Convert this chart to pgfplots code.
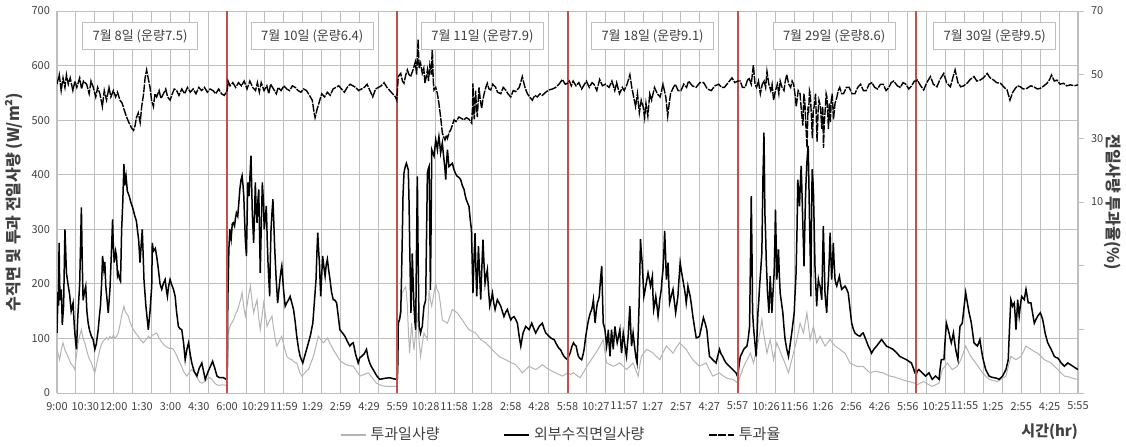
\documentclass[border=0pt]{standalone}
\usepackage{fontspec}
\setmainfont{Noto Sans CJK KR}
\usepackage{xcolor}
\usepackage{pgfplots}
\pgfplotsset{compat=1.18}

\definecolor{gridc}{RGB}{190,190,190}
\definecolor{redl}{RGB}{192,80,77}
\definecolor{txtc}{RGB}{64,64,64}
\definecolor{lgray}{RGB}{180,180,180}

\pgfplotsset{
  base/.style={
    scale only axis, width=510.5pt, height=191pt,
    xmin=0, xmax=54,
    /pgf/number format/assume math mode=true,
    tick label style={font=\fontsize{5.5}{6}\selectfont, text=txtc},
  },
}
\tikzset{
  boxlab/.style={draw=gridc, fill=white, inner xsep=5pt, inner ysep=3.5pt,
    font=\fontsize{6.5}{7}\selectfont, text=txtc},
}

\begin{document}
\begin{tikzpicture}
\useasboundingbox (-28.5pt,-26.5pt) rectangle (534.5pt,196.5pt);

% left axis: irradiance
\begin{axis}[base,
  ymin=0, ymax=700, ytick={0,100,...,700},
  ymajorgrids, major grid style={draw=gridc, line width=0.5pt},
  xtick={0,1.5,3,4.5,6,7.5,9,10.5,12,13.5,15,16.5,18,19.5,21,22.5,24,25.5,27,28.5,30,31.5,33,34.5,36,37.5,39,40.5,42,43.5,45,46.5,48,49.5,51,52.5,54},
  xticklabels={9:00,10:30,12:00,1:30,3:00,4:30,6:00,10:29,11:59,1:29,2:59,4:29,5:59,10:28,11:58,1:28,2:58,4:28,5:58,10:27,11:57,1:27,2:57,4:27,5:57,10:26,11:56,1:26,2:56,4:26,5:56,10:25,11:55,1:25,2:55,4:25,5:55},
  minor xtick={0,1,2,3,4,5,6,7,8,10,11,12,13,14,15,16,17,19,20,21,22,23,24,25,26,28,29,30,31,32,33,34,35,37,38,39,40,41,42,43,44,45,46,47,48,49,50,51,52,53,54},
  xminorgrids, minor grid style={draw=gridc, line width=0.5pt},
  major tick length=0pt, minor tick length=0pt,
  axis line style={draw=gridc},
  ylabel={\bfseries 수직면 및 투과 전일사량 (W/m²)},
  ylabel style={font=\fontsize{8}{9}\selectfont, text=txtc, at={(axis description cs:-0.042,0.5)}, anchor=center},
  xticklabel style={yshift=-1pt},
]
% transmitted irradiance (gray)
\addplot[lgray, line width=0.5pt] coordinates {
(0,80) (0.07,70) (0.14,61) (0.23,80) (0.32,92) (0.41,80) (0.50,73) (0.6,65) (0.72,55) (0.83,50) (0.94,43) (1.03,70) (1.12,92) (1.2,105) (1.29,116) (1.38,100) (1.47,92) (1.56,80) (1.65,68) (1.74,60) (1.82,55) (1.91,45) (2.00,37) (2.08,50) (2.17,65) (2.27,80) (2.36,90) (2.45,95) (2.53,98) (2.62,102) (2.71,98) (2.80,104) (2.9,100) (2.98,106) (3.06,100) (3.15,104) (3.24,110) (3.33,125) (3.44,145) (3.54,159) (3.6,150) (3.68,145) (3.77,141) (3.86,130) (3.95,122) (4.04,116) (4.12,112) (4.2,108) (4.3,104) (4.4,98) (4.48,95) (4.57,92) (4.66,96) (4.75,100) (4.84,104) (4.93,100) (5.05,106) (5.16,108) (5.27,110) (5.38,102) (5.5,95) (5.61,90) (5.72,86) (5.83,84) (5.94,82) (6.05,82) (6.16,80) (6.25,74) (6.34,68) (6.43,60) (6.51,55) (6.6,48) (6.69,40) (6.78,35) (6.87,31) (6.96,36) (7.05,40) (7.13,43) (7.22,40) (7.32,34) (7.44,26) (7.55,20) (7.66,18) (7.77,20) (7.88,24) (7.99,27) (8.1,28) (8.22,24) (8.34,18) (8.46,15) (8.6,14) (8.75,15) (9.0,14)
(9.04,60) (9.09,116) (9.18,125) (9.27,130) (9.35,135) (9.44,145) (9.53,150) (9.61,159) (9.7,170) (9.79,184) (9.87,160) (9.96,141) (10.05,160) (10.14,180) (10.23,196) (10.31,170) (10.4,147) (10.49,160) (10.58,171) (10.66,140) (10.75,116) (10.84,140) (10.93,165) (11.02,145) (11.11,122) (11.2,130) (11.28,135) (11.37,141) (11.45,120) (11.54,100) (11.63,86) (11.72,92) (11.8,98) (11.89,104) (11.98,90) (12.07,78) (12.16,67) (12.25,64) (12.33,62) (12.42,61) (12.5,58) (12.59,56) (12.68,55) (12.77,45) (12.86,36) (12.95,31) (13.07,35) (13.19,40) (13.3,43) (13.43,55) (13.56,67) (13.69,85) (13.82,104) (13.95,98) (14.09,92) (14.2,96) (14.3,101) (14.45,90) (14.61,80) (14.75,72) (14.88,64) (15.01,58) (15.14,55) (15.3,52) (15.5,50) (15.67,49) (15.85,40) (16.02,31) (16.24,34) (16.46,37) (16.67,28) (16.89,18) (17.15,14) (17.42,12) (17.7,12) (18.0,12)
(18.03,60) (18.05,122) (18.15,150) (18.26,183) (18.35,190) (18.44,195) (18.49,180) (18.53,159) (18.59,110) (18.65,73) (18.7,100) (18.76,128) (18.82,100) (18.88,79) (18.97,110) (19.06,147) (19.14,100) (19.23,67) (19.32,90) (19.41,110) (19.5,104) (19.59,98) (19.63,140) (19.68,189) (19.75,170) (19.82,159) (19.92,180) (20.03,201) (20.1,190) (20.2,183) (20.29,160) (20.38,134) (20.5,131) (20.65,128) (20.78,140) (20.91,153) (21.04,150) (21.17,147) (21.3,140) (21.44,134) (21.6,125) (21.79,116) (21.96,113) (22.14,110) (22.27,104) (22.41,98) (22.54,95) (22.67,92) (22.85,86) (23.03,79) (23.2,73) (23.38,67) (23.55,64) (23.73,61) (24.0,56) (24.26,52) (24.44,45) (24.61,37) (24.79,43) (24.97,49) (25.14,46) (25.32,43) (25.5,47) (25.67,52) (25.85,47) (26.02,43) (26.2,40) (26.38,37) (26.55,34) (26.73,31) (26.88,34) (27.0,37)
(27.16,34) (27.32,37) (27.5,32) (27.67,28) (27.85,38) (28.02,49) (28.2,58) (28.37,67) (28.55,76) (28.72,86) (28.89,98) (28.98,75) (29.07,55) (29.25,52) (29.42,49) (29.6,52) (29.77,55) (29.95,49) (30.12,43) (30.3,49) (30.47,55) (30.6,43) (30.74,31) (30.82,50) (30.91,67) (31.05,74) (31.18,80) (31.35,77) (31.53,73) (31.7,67) (31.88,61) (32.05,74) (32.23,86) (32.4,80) (32.58,73) (32.75,83) (32.93,92) (33.1,86) (33.28,80) (33.45,70) (33.63,61) (33.8,55) (33.98,49) (34.15,52) (34.33,55) (34.5,43) (34.68,31) (34.86,34) (35.04,37) (35.2,32) (35.39,28) (35.56,26) (35.74,25) (35.87,22) (36.0,18)
(36.16,33) (36.32,49) (36.5,61) (36.67,73) (36.76,64) (36.84,55) (36.97,76) (37.11,98) (37.2,116) (37.28,135) (37.37,110) (37.46,92) (37.55,73) (37.63,85) (37.72,98) (37.81,80) (37.9,61) (37.98,76) (38.07,92) (38.25,76) (38.43,61) (38.56,49) (38.69,37) (38.82,55) (38.95,73) (39.04,85) (39.13,98) (39.22,113) (39.3,128) (39.39,119) (39.48,110) (39.57,128) (39.66,147) (39.75,122) (39.83,98) (39.92,110) (40.01,122) (40.1,107) (40.18,92) (40.27,98) (40.36,104) (40.49,95) (40.62,86) (40.75,92) (40.89,98) (41.02,92) (41.15,86) (41.28,83) (41.41,80) (41.55,76) (41.68,73) (41.81,64) (41.94,55) (42.12,52) (42.29,49) (42.47,49) (42.64,49) (42.81,43) (42.99,37) (43.17,39) (43.35,40) (43.52,38) (43.7,37) (43.87,34) (44.05,31) (44.22,30) (44.4,28) (44.58,26) (44.75,24) (44.93,22) (45.1,21) (45.25,19) (45.37,18) (45.5,15)
(45.65,18) (45.85,21) (46.07,16) (46.29,12) (46.47,15) (46.65,18) (46.74,30) (46.82,43) (46.96,49) (47.09,55) (47.22,49) (47.35,43) (47.49,46) (47.62,49) (47.71,55) (47.8,61) (47.93,73) (48.06,86) (48.2,76) (48.33,67) (48.46,61) (48.59,55) (48.77,46) (48.95,37) (49.12,31) (49.3,25) (49.52,23) (49.74,21) (49.97,26) (50.19,31) (50.32,49) (50.45,67) (50.59,64) (50.72,61) (50.85,64) (50.98,67) (51.12,76) (51.25,86) (51.38,83) (51.51,80) (51.69,76) (51.87,73) (52.05,67) (52.22,61) (52.4,58) (52.58,55) (52.75,49) (52.93,43) (53.1,37) (53.28,31) (53.46,30) (53.64,28) (53.82,26) (54.0,25)
};
% external vertical irradiance (black)
\addplot[black, line width=0.75pt] coordinates {
(0,110) (0.03,150) (0.05,185) (0.08,160) (0.11,275) (0.14,200) (0.18,170) (0.23,190) (0.28,125) (0.35,160) (0.42,300) (0.5,220) (0.58,200) (0.67,180) (0.75,150) (0.85,165) (0.92,120) (0.99,92) (1.03,80) (1.1,140) (1.2,200) (1.29,340) (1.33,250) (1.38,170) (1.45,185) (1.52,196) (1.58,150) (1.65,128) (1.72,115) (1.82,104) (1.91,98) (2.00,80) (2.08,90) (2.18,116) (2.24,140) (2.30,160) (2.36,200) (2.41,251) (2.48,226) (2.53,240) (2.58,196) (2.65,170) (2.71,147) (2.80,190) (2.87,250) (2.94,318) (2.98,270) (3.03,239) (3.1,260) (3.15,251) (3.2,215) (3.24,220) (3.3,210) (3.36,205) (3.42,300) (3.48,350) (3.54,420) (3.58,380) (3.65,398) (3.72,370) (3.82,361) (3.9,350) (4.0,340) (4.12,324) (4.2,315) (4.25,300) (4.32,280) (4.39,239) (4.45,270) (4.51,300) (4.56,250) (4.60,208) (4.7,160) (4.83,116) (4.92,150) (5.01,196) (5.04,275) (5.1,260) (5.2,265) (5.27,251) (5.35,230) (5.45,200) (5.54,190) (5.62,200) (5.72,208) (5.78,190) (5.84,177) (5.9,195) (5.98,208) (6.05,200) (6.16,190) (6.25,177) (6.32,150) (6.42,122) (6.5,118) (6.60,116) (6.7,90) (6.78,61) (6.87,80) (6.96,92) (7.05,70) (7.13,55) (7.25,40) (7.40,31) (7.52,45) (7.66,55) (7.75,40) (7.84,25) (8.0,40) (8.23,58) (8.35,45) (8.46,31) (8.6,28) (8.81,28) (8.95,25)
(9.0,25) (9.02,120) (9.04,177) (9.09,263) (9.14,300) (9.21,282) (9.27,310) (9.32,312) (9.39,306) (9.44,320) (9.49,330) (9.56,324) (9.62,350) (9.67,373) (9.73,390) (9.79,398) (9.84,380) (9.88,361) (9.92,320) (9.96,282) (10.02,251) (10.09,386) (10.16,361) (10.21,400) (10.26,435) (10.33,330) (10.4,275) (10.45,330) (10.49,386) (10.53,340) (10.58,312) (10.62,350) (10.67,373) (10.71,300) (10.75,220) (10.8,300) (10.86,386) (10.92,350) (10.96,300) (11.02,320) (11.07,343) (11.12,280) (11.16,239) (11.2,210) (11.25,177) (11.28,240) (11.32,300) (11.37,330) (11.42,355) (11.47,310) (11.51,269) (11.59,210) (11.67,165) (11.74,190) (11.81,214) (11.85,225) (11.89,233) (11.94,210) (11.98,190) (12.02,175) (12.07,159) (12.15,165) (12.25,171) (12.33,177) (12.42,165) (12.51,153) (12.6,130) (12.68,104) (12.78,80) (12.86,67) (13.0,55) (13.12,70) (13.25,86) (13.4,105) (13.53,128) (13.62,170) (13.70,208) (13.75,260) (13.79,294) (13.84,260) (13.88,239) (13.92,200) (13.95,177) (14.0,215) (14.05,251) (14.12,230) (14.18,214) (14.24,235) (14.30,245) (14.37,225) (14.44,208) (14.52,185) (14.61,171) (14.7,170) (14.79,165) (14.88,140) (14.96,116) (15.1,110) (15.23,104) (15.35,95) (15.49,86) (15.58,90) (15.67,92) (15.8,70) (15.93,55) (16.02,65) (16.11,67) (16.25,72) (16.37,80) (16.45,65) (16.54,55) (16.63,48) (16.72,43) (16.9,32) (17.07,25) (17.35,27) (17.6,28) (17.8,26) (18.0,25)
(18.03,60) (18.05,128) (18.12,135) (18.18,147) (18.22,210) (18.26,281) (18.3,360) (18.35,403) (18.42,415) (18.48,421) (18.53,415) (18.58,409) (18.62,350) (18.65,281) (18.69,200) (18.72,147) (18.76,200) (18.79,256) (18.84,200) (18.88,159) (18.93,130) (18.97,116) (19.01,250) (19.06,397) (19.1,250) (19.15,122) (19.2,115) (19.23,110) (19.28,118) (19.32,122) (19.36,140) (19.41,159) (19.46,165) (19.5,171) (19.55,300) (19.59,403) (19.63,410) (19.68,415) (19.72,300) (19.75,189) (19.79,320) (19.82,446) (19.88,440) (19.94,434) (19.99,450) (20.03,464) (20.08,455) (20.12,446) (20.16,460) (20.2,470) (20.25,455) (20.29,440) (20.34,450) (20.38,458) (20.43,440) (20.47,427) (20.52,410) (20.56,391) (20.6,420) (20.65,446) (20.69,430) (20.73,415) (20.82,418) (20.91,421) (21.0,409) (21.08,402) (21.17,397) (21.26,395) (21.35,391) (21.44,380) (21.53,373) (21.59,362) (21.65,354) (21.72,348) (21.79,342) (21.85,320) (21.92,299) (21.96,240) (22.0,183) (22.05,240) (22.11,293) (22.15,235) (22.2,177) (22.25,225) (22.29,269) (22.35,220) (22.41,171) (22.47,230) (22.53,281) (22.58,240) (22.64,201) (22.7,215) (22.76,226) (22.82,190) (22.89,159) (22.96,170) (23.03,183) (23.1,165) (23.17,153) (23.23,162) (23.29,171) (23.38,165) (23.47,159) (23.55,150) (23.64,140) (23.73,148) (23.82,153) (23.91,143) (24.0,134) (24.08,138) (24.17,140) (24.26,135) (24.35,128) (24.44,105) (24.53,86) (24.59,98) (24.65,110) (24.72,116) (24.79,122) (24.88,119) (24.97,116) (25.04,122) (25.11,128) (25.22,118) (25.32,110) (25.41,116) (25.5,122) (25.58,125) (25.67,128) (25.76,118) (25.85,110) (25.94,107) (26.02,104) (26.15,100) (26.29,98) (26.38,92) (26.47,86) (26.55,82) (26.64,79) (26.73,72) (26.82,67) (26.9,64) (27.0,61)
(27.07,68) (27.14,73) (27.23,85) (27.32,92) (27.39,88) (27.46,86) (27.52,75) (27.58,67) (27.67,63) (27.75,61) (27.82,70) (27.88,80) (27.95,100) (28.02,116) (28.09,130) (28.16,141) (28.22,148) (28.28,153) (28.33,162) (28.37,171) (28.42,145) (28.46,128) (28.52,150) (28.58,165) (28.63,170) (28.68,177) (28.74,205) (28.81,233) (28.85,180) (28.89,128) (28.94,122) (28.98,116) (29.03,100) (29.07,86) (29.12,100) (29.16,116) (29.2,90) (29.25,67) (29.29,95) (29.33,116) (29.38,95) (29.42,80) (29.46,100) (29.51,122) (29.57,105) (29.63,92) (29.7,104) (29.77,116) (29.81,95) (29.86,73) (29.9,90) (29.95,110) (30.0,98) (30.04,86) (30.08,75) (30.12,67) (30.16,85) (30.21,104) (30.25,130) (30.3,159) (30.34,120) (30.39,86) (30.43,98) (30.47,110) (30.54,88) (30.61,67) (30.68,55) (30.74,110) (30.79,165) (30.83,230) (30.86,282) (30.9,260) (30.95,239) (31.0,205) (31.04,177) (31.09,186) (31.14,196) (31.2,208) (31.26,220) (31.33,208) (31.39,196) (31.44,205) (31.49,214) (31.52,180) (31.56,153) (31.62,165) (31.67,177) (31.73,160) (31.79,141) (31.84,156) (31.88,171) (31.92,180) (31.96,190) (32.0,208) (32.05,226) (32.1,260) (32.14,297) (32.19,250) (32.23,208) (32.28,225) (32.32,239) (32.36,200) (32.4,165) (32.49,178) (32.58,190) (32.65,168) (32.72,147) (32.78,162) (32.84,177) (32.9,210) (32.96,239) (33.03,222) (33.1,208) (33.15,198) (33.19,190) (33.24,178) (33.28,165) (33.33,180) (33.37,196) (33.43,186) (33.49,177) (33.56,160) (33.63,141) (33.72,120) (33.81,101) (33.9,102) (33.98,104) (34.08,120) (34.19,138) (34.28,128) (34.37,116) (34.44,90) (34.51,67) (34.6,64) (34.68,61) (34.77,58) (34.86,55) (34.95,68) (35.04,80) (35.12,72) (35.21,67) (35.3,60) (35.39,55) (35.47,52) (35.56,49) (35.65,46) (35.74,43) (35.82,40) (35.91,37) (36.0,30)
(36.07,50) (36.14,67) (36.23,73) (36.32,80) (36.4,83) (36.49,86) (36.56,100) (36.63,122) (36.68,250) (36.72,361) (36.76,250) (36.79,147) (36.84,120) (36.88,104) (36.93,85) (36.98,67) (37.03,110) (37.07,147) (37.12,170) (37.16,196) (37.22,225) (37.28,257) (37.31,330) (37.34,398) (37.37,440) (37.39,477) (37.42,400) (37.44,330) (37.48,290) (37.51,245) (37.55,210) (37.58,183) (37.62,165) (37.65,147) (37.69,180) (37.72,214) (37.77,180) (37.81,147) (37.87,185) (37.93,220) (37.97,280) (38.0,336) (38.04,270) (38.07,208) (38.12,235) (38.16,263) (38.2,220) (38.25,183) (38.32,165) (38.39,147) (38.45,120) (38.51,98) (38.6,80) (38.69,67) (38.78,90) (38.86,110) (38.93,130) (38.99,147) (39.04,185) (39.09,220) (39.14,300) (39.18,391) (39.22,370) (39.27,342) (39.31,380) (39.36,416) (39.4,370) (39.44,318) (39.48,270) (39.51,232) (39.55,300) (39.59,361) (39.62,390) (39.66,422) (39.7,440) (39.73,453) (39.77,380) (39.8,318) (39.84,250) (39.87,177) (39.9,300) (39.94,410) (39.98,390) (40.01,367) (40.05,300) (40.09,232) (40.13,200) (40.18,159) (40.22,185) (40.27,208) (40.31,200) (40.36,196) (40.4,185) (40.45,171) (40.49,240) (40.53,306) (40.58,240) (40.62,183) (40.66,165) (40.71,147) (40.75,180) (40.8,208) (40.85,250) (40.89,294) (40.93,250) (40.97,208) (41.02,240) (41.06,275) (41.1,240) (41.15,208) (41.2,200) (41.24,196) (41.31,205) (41.38,214) (41.44,200) (41.5,190) (41.59,193) (41.68,196) (41.77,190) (41.85,183) (41.94,155) (42.03,128) (42.11,118) (42.2,110) (42.34,106) (42.47,104) (42.56,108) (42.64,110) (42.78,98) (42.91,86) (43.0,80) (43.08,73) (43.2,80) (43.35,86) (43.48,92) (43.61,98) (43.74,92) (43.87,86) (44.05,83) (44.22,80) (44.4,74) (44.58,67) (44.75,64) (44.93,61) (45.06,58) (45.19,55) (45.3,45) (45.37,37) (45.45,35)
(45.5,40) (45.58,43) (45.67,40) (45.76,37) (45.85,34) (45.94,31) (46.03,34) (46.12,37) (46.2,31) (46.29,25) (46.38,28) (46.47,31) (46.56,28) (46.65,25) (46.71,45) (46.77,61) (46.84,61) (46.91,61) (46.97,95) (47.04,128) (47.11,119) (47.18,110) (47.24,100) (47.3,92) (47.36,101) (47.41,110) (47.47,95) (47.53,80) (47.59,70) (47.65,61) (47.7,95) (47.76,122) (47.82,125) (47.88,128) (47.97,156) (48.06,184) (48.15,165) (48.24,147) (48.3,138) (48.36,128) (48.43,110) (48.5,92) (48.59,89) (48.68,86) (48.75,92) (48.81,98) (48.88,82) (48.95,67) (49.03,55) (49.12,43) (49.21,37) (49.3,31) (49.43,29) (49.57,28) (49.7,27) (49.83,25) (49.92,28) (50.01,31) (50.1,37) (50.19,43) (50.25,52) (50.31,61) (50.38,120) (50.45,171) (50.5,165) (50.54,159) (50.58,162) (50.63,165) (50.68,140) (50.72,116) (50.77,145) (50.81,171) (50.85,155) (50.89,141) (50.95,160) (51.02,177) (51.09,174) (51.16,171) (51.2,180) (51.25,190) (51.31,178) (51.37,165) (51.44,165) (51.51,165) (51.6,146) (51.69,128) (51.78,135) (51.87,141) (51.94,144) (52.01,147) (52.07,141) (52.13,135) (52.2,122) (52.26,110) (52.33,101) (52.4,92) (52.49,86) (52.58,80) (52.67,73) (52.75,67) (52.84,65) (52.93,64) (53.02,60) (53.11,55) (53.2,52) (53.28,49) (53.37,52) (53.46,55) (53.6,52) (53.73,49) (53.86,46) (54.0,43)
};
\end{axis}

% right axis: transmittance
\begin{axis}[base,
  ymin=-50, ymax=70,
  axis y line*=right, axis x line=none,
  axis line style={draw=gridc},
  ytick={-50,-30,-10,10,30,50,70},
  yticklabels={{},{},{},10,30,50,70},
  ytick style={draw=gridc}, tick align=outside, major tick length=3pt,
  clip mode=individual,
  ylabel={\bfseries 전일사량 투과율(\%)},
  ylabel style={font=\fontsize{8}{9}\selectfont, text=txtc, at={(axis description cs:1.034,0.5)}, anchor=center, rotate=180},
  legend columns=3,
  legend style={draw=none, fill=none, at={(0.495,-0.11)}, anchor=center,
    font=\fontsize{7.5}{8}\selectfont, text=txtc,
    /tikz/every even column/.append style={column sep=30pt}},
  legend image code/.code={\draw[#1] (0pt,0pt) -- (12.5pt,0pt);},
]
% day separators
\addplot[color=redl, line width=1pt, forget plot] coordinates {(9,-50) (9,70)};
\addplot[color=redl, line width=1pt, forget plot] coordinates {(18,-50) (18,70)};
\addplot[color=redl, line width=1pt, forget plot] coordinates {(27.03,-50) (27.03,70)};
\addplot[color=redl, line width=1pt, forget plot] coordinates {(36,-50) (36,70)};
\addplot[color=redl, line width=1pt, forget plot] coordinates {(45.45,-50) (45.45,70)};
\addlegendimage{lgray, line width=0.6pt}
\addlegendentry{투과일사량}
\addlegendimage{black, line width=0.75pt}
\addlegendentry{외부수직면일사량}
\addplot[black, line width=0.7pt, dash pattern=on 4pt off 0.6pt] coordinates {
(0,47) (0.12,50) (0.22,45) (0.32,49) (0.42,46) (0.5,50) (0.6,47) (0.7,49) (0.84,45) (0.95,48) (1.05,46) (1.2,49) (1.3,45.5) (1.4,48) (1.57,47) (1.7,44) (1.8,48) (1.92,46) (2.05,43) (2.15,46) (2.27,44) (2.4,40) (2.5,45) (2.62,42) (2.75,46) (2.85,43) (2.98,45) (3.1,43) (3.2,44.5) (3.33,42) (3.45,41) (3.55,39) (3.68,36.7) (3.8,35) (3.95,33.2) (4.05,32.5) (4.13,34) (4.2,36.5) (4.3,38) (4.4,35) (4.48,40) (4.58,44) (4.66,49) (4.74,51.5) (4.82,49) (4.92,46) (5.0,42) (5.1,40) (5.18,44) (5.27,43) (5.4,45) (5.5,42.5) (5.63,44) (5.75,45.5) (5.85,43) (5.98,42) (6.1,44) (6.2,45.5) (6.33,45) (6.45,43.5) (6.6,45.5) (6.75,44) (6.9,46) (7.05,44.5) (7.2,45.5) (7.35,44) (7.5,46) (7.65,45) (7.8,46) (7.95,44.5) (8.1,45.5) (8.25,45) (8.4,44) (8.55,45.5) (8.7,44) (8.85,43.5) (9.0,45)
(9.05,48) (9.15,46.5) (9.3,47.5) (9.45,46) (9.6,47.5) (9.75,46.5) (9.9,48) (10.05,45.5) (10.2,48) (10.35,46) (10.5,45) (10.6,47.5) (10.7,44.5) (10.8,47.5) (10.95,45) (11.1,46.5) (11.2,44) (11.3,47) (11.45,45.5) (11.6,44) (11.7,46) (11.85,45) (12.0,46.5) (12.15,45.5) (12.3,45) (12.45,46.5) (12.6,46) (12.75,45) (12.9,44.5) (13.05,45.5) (13.2,45) (13.35,43.5) (13.5,42) (13.6,38) (13.65,36.5) (13.75,39) (13.85,41) (14.0,44) (14.15,43) (14.3,44.5) (14.45,43.5) (14.6,45.5) (14.75,46) (14.9,46.5) (15.05,45.5) (15.2,44.5) (15.35,46) (15.5,47) (15.65,46.5) (15.8,46) (15.95,45) (16.1,45.5) (16.25,46) (16.4,47) (16.55,45) (16.7,43) (16.85,45.5) (17.0,46) (17.15,46.5) (17.3,47.5) (17.45,46) (17.6,45) (17.75,44) (17.9,43) (17.97,42)
(18.05,49.4) (18.18,50.4) (18.27,48) (18.35,47.3) (18.45,50) (18.53,51.5) (18.62,50) (18.7,49.4) (18.8,51) (18.88,52.5) (18.95,54) (19.02,50) (19.1,61) (19.15,52) (19.23,53.6) (19.32,50.4) (19.4,52) (19.46,47.3) (19.52,49) (19.59,51.5) (19.65,48) (19.72,53) (19.8,50) (19.85,59) (19.9,48) (19.94,45.2) (20.03,46) (20.12,44) (20.2,41) (20.29,36.7) (20.38,31.7) (20.45,30.5) (20.52,29.5) (20.6,31) (20.65,30) (20.75,32) (20.82,32.6) (20.9,34) (21.0,35.8) (21.1,35.3) (21.26,36.7) (21.4,36.2) (21.53,35.8) (21.65,36.5) (21.79,36) (21.93,34.8) (21.98,40) (22.0,47.3) (22.04,38) (22.07,36) (22.11,42) (22.14,45) (22.19,39) (22.23,36.7) (22.28,42) (22.32,46) (22.39,42) (22.46,39.4) (22.52,42) (22.59,44) (22.68,46) (22.76,47.3) (22.85,45.5) (22.94,45.2) (23.05,47) (23.2,46) (23.3,44.5) (23.47,44) (23.6,46) (23.73,45.2) (23.85,44) (24.0,43) (24.13,45) (24.26,44.7) (24.45,46) (24.61,49.4) (24.75,46) (24.88,44) (25.0,43) (25.14,42) (25.27,43.5) (25.4,43) (25.55,44) (25.67,43.5) (25.85,44.5) (26.02,45.2) (26.2,45.5) (26.38,46) (26.55,47) (26.73,48.5) (26.88,47) (27.0,47.3)
(27.1,48) (27.2,46.5) (27.3,48) (27.45,46.5) (27.6,47.5) (27.75,45.5) (27.9,47) (28.0,48) (28.15,46) (28.3,47.5) (28.4,47) (28.55,45) (28.7,48.5) (28.85,46.5) (29.0,47) (29.2,46) (29.35,48) (29.5,45) (29.6,47.5) (29.75,44) (29.9,46) (30.0,45) (30.15,47) (30.3,50) (30.4,46) (30.5,43) (30.6,40) (30.7,44) (30.8,38) (30.9,42) (31.0,40) (31.08,36.5) (31.15,41) (31.25,37) (31.35,44) (31.45,42) (31.6,46) (31.75,44) (31.9,43) (32.05,47) (32.2,43) (32.3,37) (32.38,41) (32.45,44) (32.6,46) (32.7,47) (32.85,45) (33.0,45) (33.15,47) (33.3,46) (33.4,48) (33.6,46.5) (33.8,46) (34.0,47.5) (34.2,47.5) (34.4,45.5) (34.6,45) (34.8,46.5) (35.0,47) (35.15,46) (35.3,46) (35.5,47.5) (35.7,49) (35.85,47.5) (36.0,48)
(36.14,48) (36.25,46) (36.4,46) (36.5,48) (36.6,49) (36.72,47) (36.83,53) (36.92,47) (37.0,46) (37.1,48) (37.2,44) (37.3,47) (37.4,48) (37.48,46) (37.55,51) (37.65,47) (37.75,45) (37.82,47) (37.9,42) (38.0,45) (38.1,47) (38.18,44) (38.25,48) (38.35,46) (38.45,45) (38.52,48) (38.6,50) (38.7,47) (38.8,46) (38.88,48) (38.96,47) (39.05,43) (39.1,40) (39.2,45) (39.3,44) (39.38,38) (39.45,34) (39.5,44) (39.55,42) (39.6,35) (39.67,27) (39.72,40) (39.75,38) (39.8,45) (39.84,44) (39.9,37) (39.95,30) (40.0,39) (40.05,40) (40.12,44) (40.2,29) (40.25,38) (40.3,42) (40.38,40) (40.45,33) (40.5,40) (40.54,27) (40.58,35) (40.62,38) (40.68,44) (40.72,43) (40.78,36) (40.8,33) (40.85,41) (40.9,35) (40.95,42) (41.0,44) (41.07,36) (41.15,41) (41.25,43) (41.32,45) (41.4,46) (41.5,44) (41.6,44) (41.75,46) (41.9,46) (42.05,44) (42.2,44) (42.35,46) (42.5,47) (42.65,45) (42.8,45) (42.95,47) (43.1,47.5) (43.25,46) (43.4,45.5) (43.55,47) (43.7,47) (43.85,45) (44.0,46) (44.12,47.5) (44.25,48) (44.45,46.5) (44.6,46) (44.75,47.5) (44.9,47) (45.05,45.5) (45.2,46.5) (45.35,48) (45.45,48)
(45.5,48.3) (45.68,46.5) (45.84,45.2) (46.0,47.5) (46.2,49.4) (46.35,47) (46.54,46.2) (46.7,48.5) (46.9,50.4) (47.05,47.5) (47.25,46.2) (47.38,49) (47.5,51.5) (47.65,47.5) (47.8,46.2) (47.95,46.5) (48.13,47.3) (48.3,48.5) (48.5,49.4) (48.65,48) (48.83,48.3) (49.0,49) (49.2,50.4) (49.35,49) (49.54,48.3) (49.7,47.5) (49.9,47.3) (50.1,46) (50.25,45.2) (50.4,42) (50.55,44.5) (50.69,45.7) (50.8,46.5) (50.95,46.2) (51.1,45.5) (51.3,45.7) (51.5,46.5) (51.66,46.2) (51.85,45.5) (52.0,45.7) (52.2,46.5) (52.36,47.3) (52.5,48.5) (52.6,49.9) (52.75,48) (52.89,48.3) (53.05,47) (53.24,47.3) (53.4,46.5) (53.6,46.8) (53.8,46.5) (54.0,46.8)
};
\addlegendentry{투과율}

\node[boxlab] at (axis cs:4.39,62.1) {7월 8일 (운량7.5)};
\node[boxlab] at (axis cs:13.5,62.1) {7월 10일 (운량6.4)};
\node[boxlab] at (axis cs:22.5,62.1) {7월 11일 (운량7.9)};
\node[boxlab] at (axis cs:31.5,62.1) {7월 18일 (운량9.1)};
\node[boxlab] at (axis cs:41.1,62.1) {7월 29일 (운량8.6)};
\node[boxlab] at (axis cs:49.6,62.1) {7월 30일 (운량9.5)};
\node[anchor=east, font=\bfseries\fontsize{7.5}{8}\selectfont, text=txtc]
  at ([xshift=3.5pt,yshift=-19.5pt]rel axis cs:1,0) {시간(hr)};
\end{axis}
\end{tikzpicture}
\end{document}
